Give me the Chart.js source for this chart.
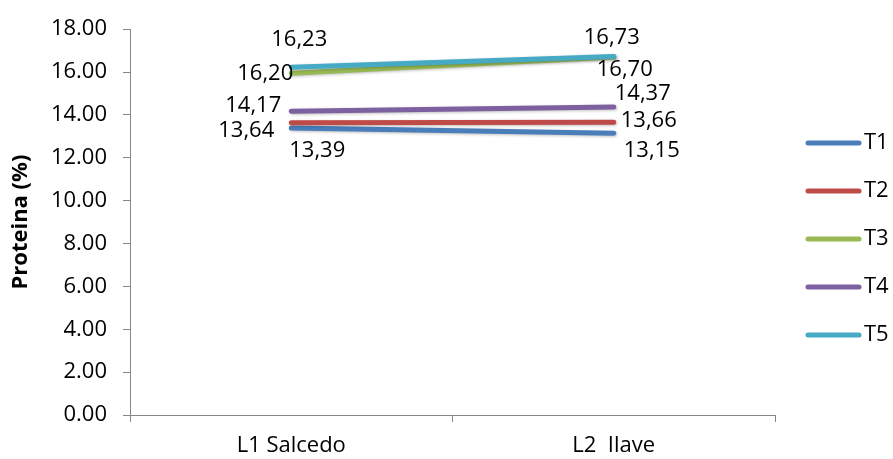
<!DOCTYPE html>
<html>
<head>
<meta charset="utf-8">
<script src="https://cdn.jsdelivr.net/npm/chart.js@4.4.1/dist/chart.umd.min.js"></script>
<style>
  html, body { margin: 0; padding: 0; background: #fff; }
  #wrap { width: 893px; height: 459px; }
</style>
</head>
<body>
<div id="wrap"><canvas id="chartProteina" width="893" height="459"></canvas></div>
<script>
const categorias = ['L1 Salcedo', 'L2  Ilave'];
const seriesNames = ['T1', 'T2', 'T3', 'T4', 'T5'];
const valoresT1 = [13.39, 13.15];
const valoresT2 = [13.64, 13.66];
const valoresT3 = [15.95, 16.70];
const valoresT4 = [14.17, 14.37];
const valoresT5 = [16.23, 16.73];
// labels as printed on the chart
const etiquetasT1 = ['13,39', '13,15'];
const etiquetasT2 = ['13,64', '13,66'];
const etiquetasT3 = ['16,20', '16,70'];
const etiquetasT4 = ['14,17', '14,37'];
const etiquetasT5 = ['16,23', '16,73'];
const yTicks = [0, 2, 4, 6, 8, 10, 12, 14, 16, 18];

const colores = ['#4A7EBB', '#BE4B48', '#98B954', '#7D60A0', '#46AAC5'];
const valores = [valoresT1, valoresT2, valoresT3, valoresT4, valoresT5];
const etiquetas = [etiquetasT1, etiquetasT2, etiquetasT3, etiquetasT4, etiquetasT5];

// label offsets from the point [dx, dy] (text centre)
const offsets = [
    [[26, 23], [38, 18]],
    [[-45, 8], [35, -1]],
    [[-26, 1], [11, 13]],
    [[-38, -6], [29, -13]],
    [[8, -27], [-2, -19]]
];

const FONT = "'Open Sans', sans-serif";

const datasets = seriesNames.map((name, i) => ({
    label: name,
    data: valores[i],
    borderColor: colores[i],
    backgroundColor: colores[i],
    borderWidth: 5,
    borderCapStyle: 'round',
    pointRadius: 0,
    pointHoverRadius: 0,
    tension: 0,
    order: 5 - i
}));

const sombraPlugin = {
    id: 'sombra',
    beforeDatasetDraw(chart) {
        const ctx = chart.ctx;
        ctx.save();
        ctx.shadowColor = 'rgba(0,0,0,0.25)';
        ctx.shadowBlur = 3;
        ctx.shadowOffsetX = 1;
        ctx.shadowOffsetY = 1;
    },
    afterDatasetDraw(chart) {
        chart.ctx.restore();
    }
};

const etiquetasPlugin = {
    id: 'etiquetas',
    afterDatasetsDraw(chart) {
        const ctx = chart.ctx;
        ctx.save();
        ctx.font = '22px ' + FONT;
        ctx.fillStyle = '#000';
        ctx.textAlign = 'center';
        ctx.textBaseline = 'middle';
        chart.data.datasets.forEach((ds, i) => {
            const meta = chart.getDatasetMeta(i);
            meta.data.forEach((pt, j) => {
                const off = offsets[i][j];
                ctx.fillText(etiquetas[i][j], pt.x + off[0], pt.y + off[1]);
            });
        });
        ctx.restore();
    }
};

const leyendaPlugin = {
    id: 'leyenda',
    afterDraw(chart) {
        const ctx = chart.ctx;
        ctx.save();
        ctx.font = '22px ' + FONT;
        ctx.textAlign = 'left';
        ctx.textBaseline = 'middle';
        seriesNames.forEach((name, i) => {
            const y = 143 + i * 48;
            ctx.strokeStyle = colores[i];
            ctx.lineWidth = 5;
            ctx.lineCap = 'round';
            ctx.beginPath();
            ctx.moveTo(808, y);
            ctx.lineTo(859, y);
            ctx.stroke();
            ctx.fillStyle = '#000';
            ctx.fillText(name, 864, y);
        });
        ctx.restore();
    }
};

new Chart(document.getElementById('chartProteina').getContext('2d'), {
    type: 'line',
    data: { labels: categorias, datasets },
    options: {
        responsive: false,
        animation: false,
        layout: { padding: { top: 16, right: 118, left: 0, bottom: 0 } },
        plugins: {
            legend: { display: false },
            tooltip: { enabled: false },
            title: { display: false }
        },
        scales: {
            x: {
                offset: true,
                grid: {
                    offset: true,
                    drawOnChartArea: false,
                    tickLength: 7,
                    color: '#868686'
                },
                border: { color: '#868686', width: 1 },
                ticks: {
                    color: '#000',
                    font: { family: FONT, size: 22 },
                    padding: 11
                },
                afterFit(scale) { scale.height = 44; }
            },
            y: {
                min: 0,
                max: 18,
                afterBuildTicks(scale) {
                    scale.ticks = yTicks.map(v => ({ value: v }));
                },
                grid: {
                    drawOnChartArea: false,
                    tickLength: 7,
                    color: '#868686'
                },
                border: { color: '#868686', width: 1 },
                ticks: {
                    color: '#000',
                    font: { family: FONT, size: 22 },
                    padding: 16,
                    callback: v => Number(v).toFixed(2)
                },
                title: {
                    display: true,
                    text: 'Proteina (%)',
                    color: '#000',
                    font: { family: FONT, size: 22, weight: 'bold' },
                    padding: { top: 8, bottom: 0 }
                },
                afterFit(scale) { scale.width = 130; }
            }
        }
    },
    plugins: [sombraPlugin, etiquetasPlugin, leyendaPlugin]
});
</script>
</body>
</html>
